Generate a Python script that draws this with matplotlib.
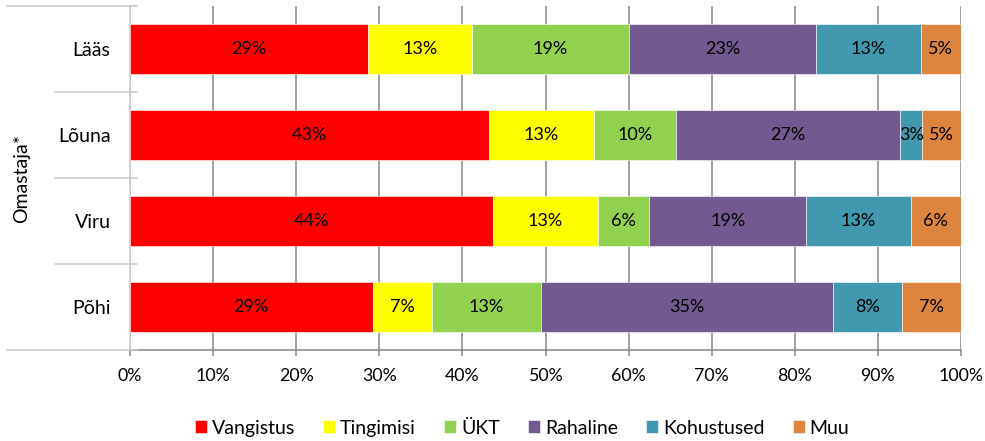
import numpy as np
import matplotlib
matplotlib.use('Agg')
import matplotlib.pyplot as plt
from matplotlib.lines import Line2D

plt.rcParams['font.family'] = ['Lato', 'DejaVu Sans']

regions = ['Lääs', 'Lõuna', 'Viru', 'Põhi']
series = ['Vangistus', 'Tingimisi', 'ÜKT', 'Rahaline', 'Kohustused', 'Muu']
colors = ['#FF0000', '#FFFF00', '#92D050', '#72598F', '#4298AF', '#DD843F']

vangistus = [28.6, 43.2, 43.7, 29.2]
tingimisi = [12.6, 12.6, 12.6, 7.2]
ukt = [18.8, 9.9, 6.2, 13.0]
rahaline = [22.6, 27.0, 18.9, 35.2]
kohustused = [12.55, 2.6, 12.55, 8.3]
muu = [4.85, 4.7, 6.05, 7.1]

xticks = np.arange(0, 101, 10)
xticklabels = [f'{t}%' for t in xticks]

W, H = 985, 441
fig = plt.figure(figsize=(W / 100, H / 100), dpi=100)
ax = fig.add_axes([130 / W, 1 - 350 / H, 831 / W, 344 / H])

y = np.arange(len(regions))
left = np.zeros(len(regions))
data = [vangistus, tingimisi, ukt, rahaline, kohustused, muu]
for name, vals, c in zip(series, data, colors):
    vals = np.array(vals)
    ax.barh(y, vals, left=left, height=0.585, color=c, edgecolor='white',
            linewidth=0.4, label=name, zorder=3)
    for yi, l, v in zip(y, left, vals):
        ax.text(l + v / 2, yi, f'{v:.0f}%', ha='center', va='center',
                fontsize=13, color='black', zorder=4)
    left += vals

ax.set_xlim(0, 100)
ax.set_ylim(3.5, -0.5)
ax.set_xticks(xticks)
ax.set_xticklabels(xticklabels, fontsize=12.8)
ax.set_yticks(y)
ax.set_yticklabels(regions, fontsize=14)
ax.tick_params(axis='y', length=0, pad=14)
ax.tick_params(axis='x', length=4.3, width=1.1, color='#868686', pad=9)
ax.grid(axis='x', color='#868686', linewidth=1.1, zorder=0)

for s in ['top', 'right']:
    ax.spines[s].set_visible(False)
ax.spines['bottom'].set_color('#868686')
ax.spines['bottom'].set_linewidth(1.1)
ax.spines['left'].set_color('#D0D0D0')
ax.spines['left'].set_linewidth(1.1)

# multi-level category separators
for py, x0 in [(6, 7), (92, 55), (178, 55), (264, 55), (350, 7)]:
    fig.add_artist(Line2D([x0 / W, 137 / W], [1 - py / H, 1 - py / H],
                          color='#C8C8C8', linewidth=1.1))

fig.text(22 / W, 1 - 178 / H, 'Omastaja*', rotation=90, ha='center',
         va='center', fontsize=14)

fig.legend(loc='center', bbox_to_anchor=(522 / W, 1 - 428 / H), ncol=6,
           frameon=False, fontsize=14, handlelength=0.62, handleheight=0.62,
           handletextpad=0.25, columnspacing=1.45)

fig.savefig('out.png', dpi=100)
